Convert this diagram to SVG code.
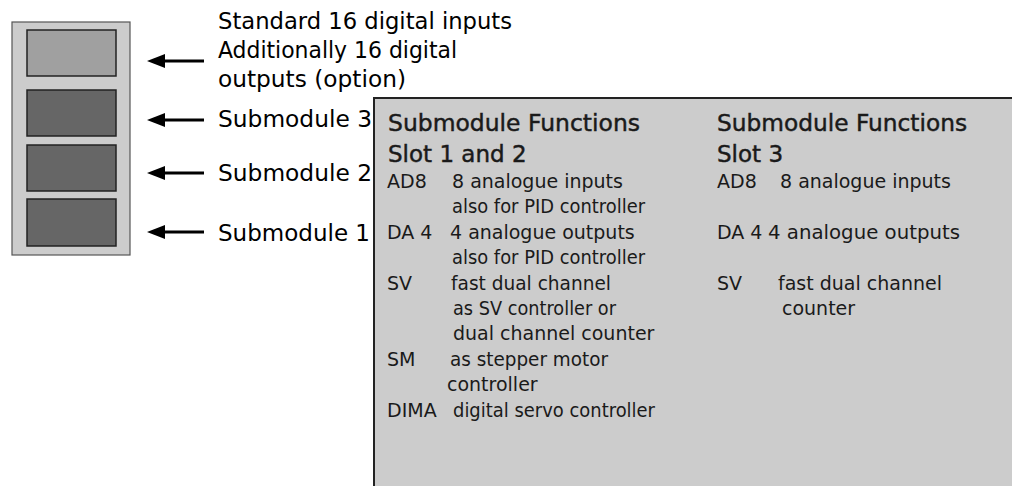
<svg xmlns="http://www.w3.org/2000/svg" width="1012" height="486" viewBox="0 0 1012 486">
  <defs>
    <marker id="ah" viewBox="0 0 18 14" refX="1" refY="7" markerWidth="18" markerHeight="14" markerUnits="userSpaceOnUse" orient="auto-start-reverse">
      <path d="M0,0 L18,7 L0,14 Z" fill="#000"/>
    </marker>
    <style>
      .lbl{font-family:"DejaVu Sans","Liberation Sans",sans-serif;font-size:23px;fill:#000}
      .hd{font-family:"DejaVu Sans","Liberation Sans",sans-serif;font-size:23px;fill:#1a1a1a;stroke:#1a1a1a;stroke-width:0.45}
      .bd{font-family:"DejaVu Sans","Liberation Sans",sans-serif;font-size:19px;fill:#1a1a1a}
      .conn{stroke:#000;stroke-width:3;fill:none;marker-start:url(#ah)}
      .slot{stroke:#222;stroke-width:1.5}
    </style>
  </defs>

  <g id="module">
    <rect x="12" y="22" width="118" height="233" fill="#cccccc" stroke="#555" stroke-width="1.2"/>
    <rect id="slot-digital" class="slot" x="27" y="30" width="89" height="46" fill="#a0a0a0"/>
    <rect id="slot-3" class="slot" x="27" y="90" width="89" height="46" fill="#666666"/>
    <rect id="slot-2" class="slot" x="27" y="145" width="89" height="46" fill="#666666"/>
    <rect id="slot-1" class="slot" x="27" y="199" width="89" height="47" fill="#666666"/>
  </g>

  <g id="connectors">
    <line class="conn" x1="164" y1="61" x2="204" y2="61"/>
    <line class="conn" x1="164" y1="120" x2="204" y2="120"/>
    <line class="conn" x1="164" y1="173" x2="204" y2="173"/>
    <line class="conn" x1="164" y1="232" x2="204" y2="232"/>
  </g>

  <g id="labels">
    <text class="lbl" x="218" y="29" textLength="294" lengthAdjust="spacingAndGlyphs">Standard 16 digital inputs</text>
    <text class="lbl" x="218" y="58" textLength="239" lengthAdjust="spacingAndGlyphs">Additionally 16 digital</text>
    <text class="lbl" x="218" y="87" textLength="188" lengthAdjust="spacingAndGlyphs">outputs (option)</text>
    <text class="lbl" x="218" y="127" textLength="154" lengthAdjust="spacingAndGlyphs">Submodule 3</text>
    <text class="lbl" x="218" y="181" textLength="154" lengthAdjust="spacingAndGlyphs">Submodule 2</text>
    <text class="lbl" x="218" y="241" textLength="152" lengthAdjust="spacingAndGlyphs">Submodule 1</text>
  </g>

  <g id="functions-panel">
    <rect x="374" y="98" width="650" height="400" fill="#cccccc" stroke="#222" stroke-width="2"/>
    <g id="slot12">
      <text class="hd" x="388" y="131" textLength="252" lengthAdjust="spacingAndGlyphs">Submodule Functions</text>
      <text class="hd" x="388" y="162">Slot 1 and 2</text>
      <text class="bd" x="387" y="188">AD8</text>
      <text class="bd" x="452" y="188">8 analogue inputs</text>
      <text class="bd" x="452" y="213" textLength="193" lengthAdjust="spacingAndGlyphs">also for PID controller</text>
      <text class="bd" x="387" y="239">DA 4</text>
      <text class="bd" x="450" y="239">4 analogue outputs</text>
      <text class="bd" x="452" y="264" textLength="193" lengthAdjust="spacingAndGlyphs">also for PID controller</text>
      <text class="bd" x="387" y="290">SV</text>
      <text class="bd" x="451" y="290" textLength="160" lengthAdjust="spacingAndGlyphs">fast dual channel</text>
      <text class="bd" x="453" y="315" textLength="163" lengthAdjust="spacingAndGlyphs">as SV controller or</text>
      <text class="bd" x="453" y="340">dual channel counter</text>
      <text class="bd" x="387" y="366">SM</text>
      <text class="bd" x="450" y="366" textLength="158" lengthAdjust="spacingAndGlyphs">as stepper motor</text>
      <text class="bd" x="447" y="391">controller</text>
      <text class="bd" x="387" y="417">DIMA</text>
      <text class="bd" x="453" y="417" textLength="202" lengthAdjust="spacingAndGlyphs">digital servo controller</text>
    </g>
    <g id="slot3">
      <text class="hd" x="717" y="131" textLength="250" lengthAdjust="spacingAndGlyphs">Submodule Functions</text>
      <text class="hd" x="717" y="162">Slot 3</text>
      <text class="bd" x="717" y="188">AD8</text>
      <text class="bd" x="780" y="188">8 analogue inputs</text>
      <text class="bd" x="717" y="239">DA 4</text>
      <text class="bd" x="768" y="239" textLength="192" lengthAdjust="spacingAndGlyphs">4 analogue outputs</text>
      <text class="bd" x="717" y="290">SV</text>
      <text class="bd" x="778" y="290">fast dual channel</text>
      <text class="bd" x="782" y="315">counter</text>
    </g>
  </g>
</svg>
